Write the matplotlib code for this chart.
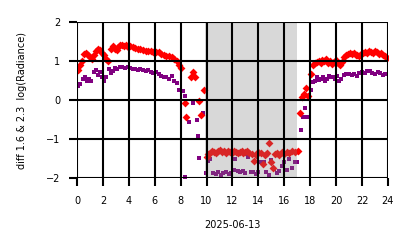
import matplotlib
matplotlib.use('Agg')
import matplotlib.pyplot as plt

# diff 1.6 - czas (h) i wartosci
red_h = [0.1, 0.25, 0.4, 0.55, 0.7, 0.85, 1.0, 1.15, 1.3, 1.45, 1.6, 1.75, 1.9, 2.05, 2.2, 2.4,
         2.6, 2.75, 2.9, 3.05, 3.2, 3.35, 3.5, 3.65, 3.8, 3.95, 4.1, 4.3, 4.5, 4.7, 4.9, 5.1,
         5.3, 5.5, 5.7, 5.9, 6.1, 6.3, 6.5, 6.7, 6.9, 7.1, 7.3, 7.5, 7.7, 7.9, 8.05, 8.3, 8.45,
         8.8, 8.95, 9.1, 9.4, 9.55, 9.8,
         10.0, 10.15, 10.3, 10.45, 10.6, 10.75, 10.9, 11.05, 11.2, 11.35, 11.5, 11.65, 11.8,
         11.95, 12.1, 12.25, 12.4, 12.55, 12.7, 12.85, 13.0, 13.15, 13.3, 13.5, 13.65, 13.8,
         14.0, 14.2, 14.35, 14.5, 14.65, 14.85, 15.0, 15.1, 15.25, 15.45, 15.6, 15.8, 16.0,
         16.2, 16.4, 16.6, 16.8, 17.05,
         17.2, 17.4, 17.55, 17.65, 17.85, 18.05, 18.2, 18.35, 18.5, 18.65, 18.8, 18.95, 19.1,
         19.25, 19.4, 19.55, 19.7, 19.85, 20.0, 20.15, 20.3, 20.45, 20.6, 20.75, 20.9, 21.05,
         21.2, 21.35, 21.5, 21.65, 21.8, 21.95, 22.1, 22.25, 22.4, 22.55, 22.7, 22.85, 23.0,
         23.15, 23.3, 23.45, 23.6, 23.75, 23.9]
red_v = [0.77, 0.9, 1.0, 1.18, 1.2, 1.15, 1.1, 1.05, 1.15, 1.25, 1.3, 1.28, 1.2, 1.15, 1.05, 1.0,
         1.3, 1.38, 1.32, 1.28, 1.35, 1.4, 1.42, 1.38, 1.4, 1.36, 1.38, 1.35, 1.33, 1.32, 1.3, 1.28,
         1.27, 1.25, 1.25, 1.23, 1.22, 1.22, 1.18, 1.15, 1.13, 1.12, 1.1, 1.05, 1.0, 0.9, 0.82, -0.08, -0.44,
         0.6, 0.72, 0.6, -0.03, -0.38, 0.25,
         -1.45, -1.38, -1.35, -1.3, -1.33, -1.37, -1.3, -1.28, -1.33, -1.3, -1.35, -1.3, -1.32,
         -1.35, -1.3, -1.33, -1.35, -1.32, -1.3, -1.35, -1.33, -1.3, -1.35, -1.38, -1.55, -1.4,
         -1.33, -1.37, -1.65, -1.42, -1.35, -1.1, -1.6, -1.75, -1.38, -1.35, -1.4, -1.33, -1.38,
         -1.32, -1.35, -1.3, -1.33, -1.3,
         -0.33, 0.08, 0.15, 0.32, 0.1, 0.68, 0.9, 0.95, 0.98, 1.0, 0.95, 1.02, 1.0,
         1.05, 0.95, 1.0, 0.92, 0.98, 1.02, 0.95, 0.9, 0.98, 1.1, 1.15, 1.18, 1.2,
         1.17, 1.2, 1.15, 1.15, 1.12, 1.18, 1.2, 1.22, 1.2, 1.25, 1.22, 1.2, 1.25,
         1.22, 1.18, 1.2, 1.15, 1.12, 1.08]

# diff 2.3
pur_h = [0.1, 0.2, 0.45, 0.6, 0.75, 0.95, 1.1, 1.3, 1.45, 1.6, 1.75, 1.9, 2.05, 2.25, 2.45, 2.6,
         2.75, 2.95, 3.1, 3.3, 3.5, 3.7, 3.9, 4.1, 4.3, 4.5, 4.7, 4.9, 5.1, 5.3, 5.5, 5.7, 5.9,
         6.1, 6.3, 6.5, 6.7, 6.9, 7.1, 7.3, 7.5, 7.7, 7.85, 8.15, 8.35, 8.3, 8.65, 8.95, 9.3,
         9.35, 9.45, 9.7,
         9.95, 10.1, 10.3, 10.5, 10.7, 10.9, 11.1, 11.3, 11.5, 11.7, 11.9, 12.1, 12.2, 12.4,
         12.6, 12.8, 13.0, 13.2, 13.4, 13.6, 13.8, 14.0, 14.2, 14.4, 14.6, 14.8, 15.0, 15.2,
         15.4, 15.6, 15.8, 16.0, 16.2, 16.4, 16.6, 16.8, 17.0,
         17.3, 17.45, 17.6, 17.75, 18.1, 18.25, 18.4, 18.55, 18.7, 18.85, 19.0, 19.15, 19.3,
         19.45, 19.6, 19.75, 19.9, 20.05, 20.2, 20.4, 20.6, 20.8, 21.0, 21.2, 21.4, 21.6, 21.8,
         22.0, 22.2, 22.4, 22.6, 22.8, 23.0, 23.2, 23.4, 23.6, 23.8]
pur_v = [0.35, 0.4, 0.55, 0.6, 0.48, 0.55, 0.5, 0.72, 0.78, 0.65, 0.72, 0.6, 0.48, 0.58, 0.8, 0.7,
         0.75, 0.82, 0.8, 0.85, 0.85, 0.82, 0.85, 0.82, 0.8, 0.8, 0.78, 0.8, 0.78, 0.75, 0.78, 0.72, 0.7,
         0.72, 0.68, 0.62, 0.58, 0.6, 0.55, 0.62, 0.5, 0.45, 0.26, 0.22, 0.1, -1.97, -0.56, -0.08, -0.52,
         -0.92, -1.48, -0.34,
         -1.87, -1.55, -1.52, -1.88, -1.9, -1.85, -1.92, -1.88, -1.85, -1.9, -1.88, -1.8, -1.5, -1.82,
         -1.85, -1.82, -1.88, -1.46, -1.85, -1.84, -1.9, -1.84, -1.6, -1.58, -1.85, -1.92, -1.54, -1.78,
         -1.88, -1.82, -1.7, -1.6, -1.8, -1.5, -1.75, -1.58, -1.58,
         -0.78, -0.43, -0.21, -0.43, 0.26, 0.46, 0.5, 0.58, 0.52, 0.55, 0.6, 0.5, 0.55,
         0.62, 0.58, 0.6, 0.55, 0.62, 0.5, 0.55, 0.65, 0.68, 0.68, 0.65, 0.66, 0.62, 0.7,
         0.72, 0.7, 0.74, 0.75, 0.7, 0.68, 0.72, 0.7, 0.65, 0.68]

xticks = list(range(0, 25, 2))
yticks = [-2, -1, 0, 1, 2]

fig = plt.figure(figsize=(4.14, 2.48), dpi=100)
ax = fig.add_axes([0.186, 0.282, 0.751, 0.629])

ax.scatter(pur_h, pur_v, marker='s', s=8, color='purple', linewidths=0, zorder=2)
ax.scatter(red_h, red_v, marker='D', s=16, color='red', linewidths=0, zorder=2.1)
ax.axvspan(9.9, 17.0, color='gray', alpha=0.3, linewidth=0, zorder=2.3)

ax.set_xlim(0, 24)
ax.set_ylim(-2, 2)
ax.set_xticks(xticks)
ax.set_yticks(yticks)
ax.set_axisbelow(False)
ax.grid(True, color='black', linewidth=1.5)
for s in ax.spines.values():
    s.set_visible(False)
ax.tick_params(axis='both', length=6, width=1.5, labelsize=7)
ax.tick_params(axis='x', pad=7)
ax.tick_params(axis='y', pad=6)
ax.set_xlabel('2025-06-13', fontsize=7, labelpad=10)
ax.set_ylabel('diff 1.6 & 2.3  log(Radiance)', fontsize=7, labelpad=14)

fig.savefig('out.png', dpi=100)
